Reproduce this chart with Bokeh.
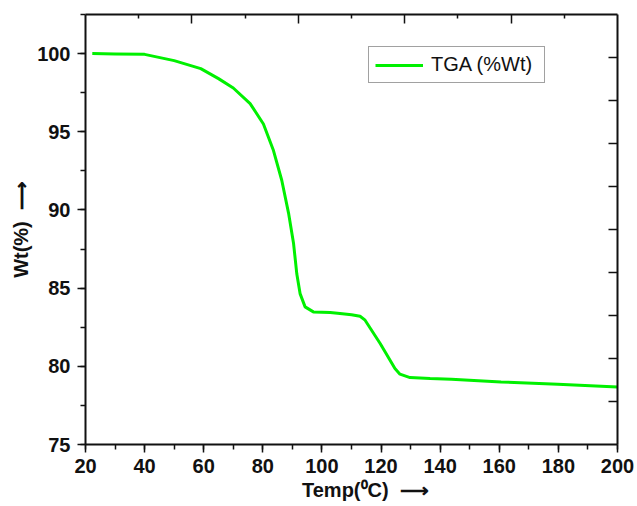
from bokeh.plotting import figure
from bokeh.models import (LinearAxis, Range1d, FixedTicker, SingleIntervalTicker,
                          Legend, LegendItem, CustomJSTickFormatter)
from bokeh.embed import file_html
from bokeh.resources import INLINE

temp = [22.3, 30, 40, 50, 59, 65, 70, 75.7, 80.2, 83.6, 86.4, 88.7, 90.4, 91.5,
        92.6, 94.3, 97.1, 102.8, 106.1, 110, 112.9, 114.6, 119.7, 124.7, 126.4,
        129.8, 136.6, 143.8, 160.6, 179.8, 200]
wt = [100, 99.98, 99.95, 99.55, 99.04, 98.4, 97.8, 96.8, 95.5, 93.8, 91.9, 89.8,
      87.85, 85.9, 84.65, 83.8, 83.48, 83.44, 83.38, 83.3, 83.2, 82.95, 81.46,
      79.86, 79.5, 79.28, 79.22, 79.18, 79.0, 78.86, 78.68]

x_label = "\u00a0" * 5 + "Temp(\u2070C)\u00a0\u00a0\u27f6"
y_label = "Wt(%)\u00a0\u00a0\u27f6"
series_name = "TGA (%Wt)"

FONT = "Liberation Sans"
AX = "#111111"

p = figure(width=637, height=506, output_backend="svg", toolbar_location=None,
           x_range=Range1d(20, 200), y_range=Range1d(75, 102.5),
           min_border_left=85, min_border_right=20, min_border_top=14,
           min_border_bottom=62, background_fill_color="white",
           border_fill_color="white", outline_line_color=None)
p.grid.visible = False
p.extra_y_ranges = {"r": Range1d(0, 10)}

empty = CustomJSTickFormatter(code="return ''")

xa = p.xaxis[0]
xa.ticker = SingleIntervalTicker(interval=20, num_minor_ticks=2)
ya = p.yaxis[0]
ya.ticker = SingleIntervalTicker(interval=5, num_minor_ticks=2)
for ax in (xa, ya):
    ax.axis_line_color = AX
    ax.axis_line_width = 2
    ax.major_tick_line_color = AX
    ax.minor_tick_line_color = AX
    ax.major_tick_line_width = 1.5
    ax.minor_tick_line_width = 1.5
    ax.major_tick_in = 0
    ax.major_tick_out = 8
    ax.minor_tick_in = 0
    ax.minor_tick_out = 5
    ax.major_label_text_font = FONT
    ax.major_label_text_font_style = "bold"
    ax.major_label_text_font_size = "20px"
    ax.major_label_text_color = "#111111"
    ax.axis_label_text_font = FONT
    ax.axis_label_text_font_style = "bold"
    ax.axis_label_text_font_size = "20px"
    ax.axis_label_text_color = "#111111"
xa.axis_label = x_label
ya.axis_label = y_label
xa.major_label_standoff = 6
xa.axis_label_standoff = 3
ya.major_label_standoff = 7
ya.axis_label_standoff = 2

top = LinearAxis(ticker=FixedTicker(ticks=[56, 92, 128, 164],
                                    minor_ticks=[38, 74, 110, 146, 182]),
                 formatter=empty, major_label_text_font_size="0px",
                 major_label_standoff=0,
                 major_tick_in=9, major_tick_out=0, minor_tick_in=4, minor_tick_out=0,
                 axis_line_width=2, axis_line_color=AX,
                 major_tick_line_width=1.5, minor_tick_line_width=1.5,
                 major_tick_line_color=AX, minor_tick_line_color=AX)
p.add_layout(top, "above")

right = LinearAxis(y_range_name="r",
                   ticker=FixedTicker(ticks=[1, 2, 3, 4, 5, 6, 7, 8, 9], minor_ticks=[]),
                   formatter=empty, major_label_text_font_size="0px",
                   major_label_standoff=0,
                   major_tick_in=9, major_tick_out=0, minor_tick_in=0, minor_tick_out=0,
                   axis_line_width=2, axis_line_color=AX,
                   major_tick_line_width=1.5, major_tick_line_color=AX)
p.add_layout(right, "right")

r = p.line(temp, wt, line_color="#00f000", line_width=3)

legend = Legend(items=[LegendItem(label=series_name, renderers=[r])],
                location=(283, 361), padding=6, spacing=0,
                glyph_width=48, glyph_height=20, label_height=20, label_width=107,
                label_standoff=8, label_text_font=FONT,
                label_text_font_size="20px", label_text_color="#111111",
                border_line_color="#444444", border_line_width=1,
                background_fill_color="white", background_fill_alpha=1,
                margin=0)
p.add_layout(legend, "center")

open("out.html", "w").write(file_html(p, INLINE))
